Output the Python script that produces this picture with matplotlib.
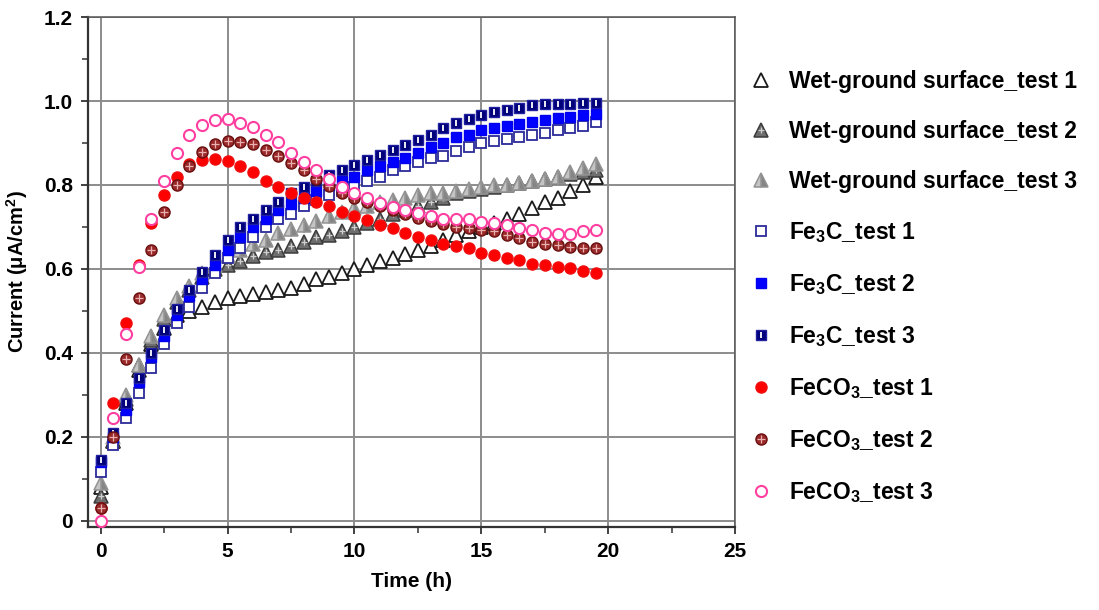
import matplotlib
matplotlib.use("Agg")
import matplotlib.pyplot as plt
from matplotlib.ticker import MultipleLocator, FuncFormatter

plt.rcParams['font.family'] = ['Liberation Sans', 'DejaVu Sans']
plt.rcParams['font.weight'] = 'bold'
plt.rcParams['mathtext.fontset'] = 'custom'
plt.rcParams['mathtext.rm'] = 'Liberation Sans:bold'
plt.rcParams['mathtext.bf'] = 'Liberation Sans:bold'
plt.rcParams['mathtext.it'] = 'Liberation Sans:bold'

# sampling times (h)
time_h = [0.0, 0.5, 1.0, 1.5, 2.0, 2.5, 3.0, 3.5, 4.0, 4.5,
          5.0, 5.5, 6.0, 6.5, 7.0, 7.5, 8.0, 8.5, 9.0, 9.5,
          10.0, 10.5, 11.0, 11.5, 12.0, 12.5, 13.0, 13.5, 14.0, 14.5,
          15.0, 15.5, 16.0, 16.5, 17.0, 17.5, 18.0, 18.5, 19.0, 19.5]

# current (uA/cm2)
wet_1 = [0.08, 0.19, 0.28, 0.36, 0.42, 0.46, 0.49, 0.50, 0.51, 0.52,
         0.53, 0.535, 0.54, 0.545, 0.55, 0.555, 0.565, 0.575, 0.58, 0.59,
         0.60, 0.61, 0.62, 0.625, 0.635, 0.645, 0.655, 0.67, 0.68, 0.69,
         0.70, 0.71, 0.72, 0.73, 0.745, 0.76, 0.77, 0.785, 0.80, 0.82]
wet_2 = [0.06, 0.19, 0.29, 0.37, 0.43, 0.48, 0.52, 0.55, 0.58, 0.60,
         0.61, 0.62, 0.63, 0.64, 0.645, 0.655, 0.665, 0.675, 0.68, 0.69,
         0.70, 0.71, 0.72, 0.73, 0.74, 0.75, 0.76, 0.77, 0.78, 0.785,
         0.79, 0.795, 0.80, 0.805, 0.81, 0.815, 0.82, 0.825, 0.83, 0.835]
wet_3 = [0.09, 0.20, 0.30, 0.37, 0.44, 0.49, 0.53, 0.56, 0.59, 0.61,
         0.63, 0.645, 0.66, 0.67, 0.685, 0.695, 0.705, 0.715, 0.725, 0.735,
         0.745, 0.75, 0.76, 0.765, 0.77, 0.775, 0.78, 0.78, 0.785, 0.79,
         0.795, 0.80, 0.80, 0.805, 0.81, 0.815, 0.82, 0.83, 0.84, 0.85]
fe3c_1 = [0.115, 0.18, 0.245, 0.305, 0.365, 0.42, 0.47, 0.51, 0.555, 0.59,
          0.625, 0.65, 0.675, 0.70, 0.72, 0.73, 0.75, 0.765, 0.775, 0.785,
          0.795, 0.81, 0.82, 0.835, 0.845, 0.855, 0.865, 0.87, 0.88, 0.89,
          0.90, 0.905, 0.91, 0.915, 0.92, 0.925, 0.93, 0.935, 0.94, 0.95]
fe3c_2 = [0.14, 0.20, 0.265, 0.33, 0.39, 0.44, 0.49, 0.535, 0.575, 0.61,
          0.645, 0.675, 0.70, 0.72, 0.74, 0.755, 0.77, 0.785, 0.80, 0.81,
          0.82, 0.835, 0.845, 0.855, 0.865, 0.875, 0.89, 0.90, 0.915, 0.92,
          0.93, 0.935, 0.94, 0.945, 0.95, 0.955, 0.96, 0.963, 0.967, 0.97]
fe3c_3 = [0.145, 0.21, 0.28, 0.34, 0.40, 0.455, 0.505, 0.55, 0.593, 0.633,
          0.67, 0.70, 0.72, 0.74, 0.76, 0.78, 0.795, 0.81, 0.824, 0.836,
          0.848, 0.86, 0.872, 0.883, 0.895, 0.907, 0.92, 0.935, 0.947, 0.957,
          0.967, 0.973, 0.978, 0.984, 0.99, 0.992, 0.993, 0.994, 0.995, 0.995]
feco3_1 = [0.03, 0.28, 0.47, 0.61, 0.71, 0.775, 0.82, 0.85, 0.86, 0.862,
           0.857, 0.845, 0.83, 0.81, 0.795, 0.78, 0.77, 0.76, 0.75, 0.735,
           0.725, 0.716, 0.705, 0.697, 0.686, 0.677, 0.67, 0.66, 0.655, 0.65,
           0.638, 0.633, 0.626, 0.621, 0.612, 0.61, 0.605, 0.602, 0.595, 0.59]
feco3_2 = [0.03, 0.20, 0.385, 0.53, 0.645, 0.735, 0.80, 0.845, 0.878, 0.898,
           0.905, 0.903, 0.897, 0.883, 0.868, 0.853, 0.835, 0.815, 0.797, 0.782,
           0.77, 0.76, 0.75, 0.74, 0.73, 0.722, 0.714, 0.706, 0.70, 0.697,
           0.693, 0.69, 0.68, 0.673, 0.665, 0.66, 0.657, 0.652, 0.65, 0.65]
feco3_3 = [0.0, 0.245, 0.445, 0.605, 0.72, 0.81, 0.875, 0.92, 0.943, 0.955,
           0.957, 0.948, 0.937, 0.92, 0.903, 0.877, 0.855, 0.835, 0.815, 0.795,
           0.78, 0.77, 0.757, 0.748, 0.74, 0.733, 0.727, 0.72, 0.718, 0.72,
           0.712, 0.71, 0.705, 0.697, 0.693, 0.686, 0.684, 0.684, 0.69, 0.693]

labels = ['Wet-ground surface_test 1', 'Wet-ground surface_test 2',
          'Wet-ground surface_test 3', 'Fe$_3$C_test 1', 'Fe$_3$C_test 2',
          'Fe$_3$C_test 3', 'FeCO$_3$_test 1', 'FeCO$_3$_test 2',
          'FeCO$_3$_test 3']

fig = plt.figure(figsize=(10.99, 6.10), dpi=100)
ax = fig.add_axes([0.080, 0.136, 0.589, 0.836])

ms_tri = 9.5
ms_sq = 7.5
ms_c = 8
handles = []

h = ax.plot(time_h, wet_1, ls='none', marker='^', ms=ms_tri, mfc='white',
            mec='#1a1a1a', mew=1.3, zorder=3)[0]
handles.append(h)

h1 = ax.plot(time_h, wet_2, ls='none', marker='^', ms=ms_tri, mfc='#6e6e6e',
             mec='#3c3c3c', mew=1.1, zorder=3)[0]
h2 = ax.plot(time_h, wet_2, ls='none', marker='+', ms=5, mec='#d0d0d0',
             mew=0.9, zorder=3)[0]
handles.append((h1, h2))

h = ax.plot(time_h, wet_3, ls='none', marker='^', ms=ms_tri, fillstyle='right',
            mfc='#858585', mfcalt='#c4c4c4', mec='#939393', mew=1.1, zorder=3)[0]
handles.append(h)

h = ax.plot(time_h, fe3c_1, ls='none', marker='s', ms=ms_sq, mfc='white',
            mec='#2b2b9a', mew=1.3, zorder=3)[0]
handles.append(h)

h = ax.plot(time_h, fe3c_2, ls='none', marker='s', ms=ms_sq, mfc='#0000ff',
            mec='#0000ee', mew=1.0, zorder=3)[0]
handles.append(h)

h1 = ax.plot(time_h, fe3c_3, ls='none', marker='s', ms=ms_sq, mfc='#00007a',
             mec='#2020a0', mew=1.0, zorder=3)[0]
h2 = ax.plot(time_h, fe3c_3, ls='none', marker='|', ms=4, mec='white',
             mew=1.3, zorder=3)[0]
handles.append((h1, h2))

h = ax.plot(time_h, feco3_1, ls='none', marker='o', ms=ms_c, mfc='#ff0000',
            mec='#f01010', mew=1.0, zorder=3)[0]
handles.append(h)

h1 = ax.plot(time_h, feco3_2, ls='none', marker='o', ms=ms_c, mfc='#9a2a2a',
             mec='#6a1010', mew=1.0, zorder=3)[0]
h2 = ax.plot(time_h, feco3_2, ls='none', marker='+', ms=6, mec='#e8b0b0',
             mew=0.9, zorder=3)[0]
handles.append((h1, h2))

h = ax.plot(time_h, feco3_3, ls='none', marker='o', ms=ms_c, mfc='white',
            mec='#ff3fa0', mew=1.5, zorder=3)[0]
handles.append(h)

ax.set_xlim(-0.5, 25)
ax.set_ylim(-0.015, 1.2)
ax.xaxis.set_major_locator(MultipleLocator(5))
ax.xaxis.set_minor_locator(MultipleLocator(2.5))
ax.yaxis.set_major_locator(MultipleLocator(0.2))
ax.yaxis.set_minor_locator(MultipleLocator(0.1))
ax.yaxis.set_major_formatter(FuncFormatter(lambda v, p: '0' if abs(v) < 1e-9 else f'{v:.1f}'))

ax.grid(True, which='major', color='#8c8c8c', lw=1.4, zorder=0)
ax.set_axisbelow(True)

for side in ['left', 'bottom']:
    ax.spines[side].set_linewidth(1.6)
    ax.spines[side].set_color('#333333')
for side in ['top', 'right']:
    ax.spines[side].set_linewidth(1.1)
    ax.spines[side].set_color('#555555')

ax.tick_params(which='major', direction='out', length=5, width=1.3,
               color='#333333', labelsize=15, pad=6)
ax.tick_params(which='minor', direction='out', length=4, width=1.1,
               color='#333333')
for lab in ax.get_xticklabels() + ax.get_yticklabels():
    lab.set_fontweight('bold')

ax.set_xlabel('Time (h)', fontsize=15, fontweight='bold', labelpad=8)
ax.set_ylabel('Current ($\\mu$A/cm$^2$)', fontsize=14.5, fontweight='bold', labelpad=10)

fig.legend(handles, labels, loc='upper left', bbox_to_anchor=(0.672, 0.900),
           frameon=False, labelspacing=1.18, handlelength=1.2,
           handletextpad=0.6, borderaxespad=0, prop={'weight': 'bold', 'size': 16.5})

fig.savefig('out.png', dpi=100)
